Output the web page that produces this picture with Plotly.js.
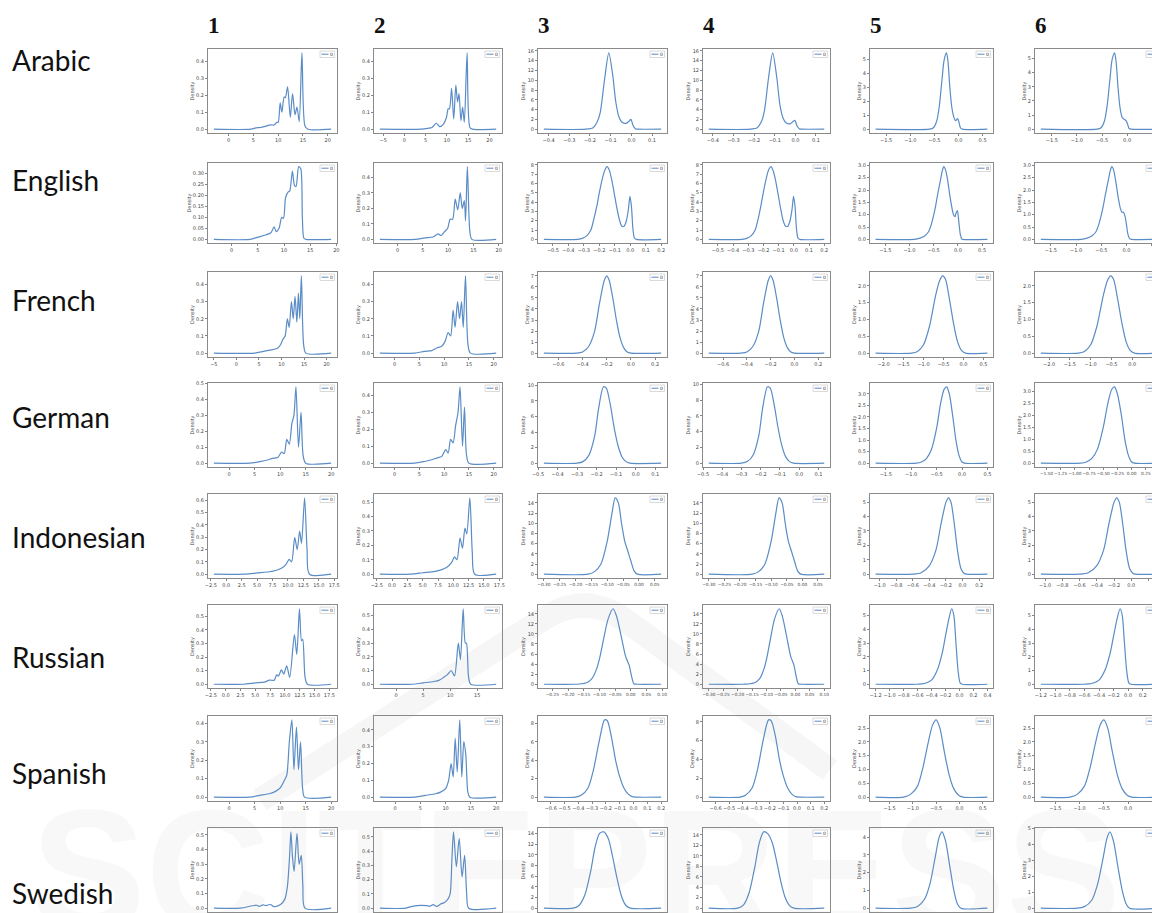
<!DOCTYPE html>
<html><head><meta charset="utf-8">
<script src="https://cdn.plot.ly/plotly-3.0.1.min.js"></script>
<style>html,body{margin:0;padding:0;background:#fff}#chart{width:1152px;height:913px}</style>
</head><body><div id="chart"></div>
<script>
// ---- labels ----
const rowNames = ['Arabic','English','French','German','Indonesian','Russian','Spanish','Swedish'];
const colNames = ['1','2','3','4','5','6'];

// ---- density curves: [value, density] ----
const arabic_1 = [[-3,0],[4.5,0],[5.5,0.008],[6.5,0.01],[7.5,0.018],[8.5,0.025],[9.2,0.025],[9.7,0.04],[10.0,0.04],[10.4,0.155],[10.75,0.1],[11.2,0.19],[11.45,0.185],[11.9,0.25],[12.45,0.07],[12.9,0.21],[13.4,0.085],[13.8,0.13],[14.25,0.045],[14.8,0.45],[15.4,0.02],[16,0],[20.7,0]];
const arabic_2 = [[-5.8,0],[4,0],[5.5,0.005],[6.5,0.01],[7.5,0.035],[8.3,0.015],[9.2,0.03],[9.9,0.07],[10.3,0.12],[10.6,0.12],[11.1,0.24],[11.6,0.06],[12.1,0.26],[12.5,0.16],[12.85,0.21],[13.3,0.05],[13.7,0.13],[14.1,0.04],[14.75,0.45],[15.4,0.01],[16,0],[21.6,0]];
const arabic_3 = [[-0.423,0],[-0.22,0],[-0.185,0.3],[-0.165,1.5],[-0.15,3.5],[-0.13,10],[-0.109,15.6],[-0.09,11],[-0.075,5.5],[-0.06,2.5],[-0.045,1.4],[-0.025,1.2],[-0.01,1.7],[-0.002,2.0],[0.008,0.8],[0.02,0.05],[0.03,0],[0.144,0]];
const arabic_4 = [[-0.42,0],[-0.22,0],[-0.185,0.3],[-0.165,1.5],[-0.15,3.8],[-0.13,10.5],[-0.11,15.6],[-0.09,10.5],[-0.075,5],[-0.06,2.3],[-0.045,1.3],[-0.025,1.1],[-0.01,1.6],[-0.002,1.8],[0.008,0.7],[0.02,0.05],[0.03,0],[0.14,0]];
const arabic_5 = [[-1.72,0],[-0.6,0],[-0.52,0.1],[-0.45,0.6],[-0.4,1.6],[-0.34,3.6],[-0.3,4.9],[-0.25,5.45],[-0.22,4.9],[-0.18,3.0],[-0.14,1.6],[-0.1,0.9],[-0.06,0.6],[-0.02,0.75],[0.01,0.5],[0.04,0.1],[0.08,0],[0.6,0]];
const arabic_6 = [[-1.72,0],[-0.6,0],[-0.52,0.1],[-0.45,0.6],[-0.4,1.6],[-0.34,3.6],[-0.3,4.9],[-0.25,5.4],[-0.22,4.8],[-0.18,2.9],[-0.14,1.5],[-0.1,0.85],[-0.06,0.7],[-0.02,0.6],[0.01,0.35],[0.04,0.05],[0.08,0],[0.6,0]];

const english_1 = [[-3.4,0],[3.5,0],[5,0.01],[6.5,0.02],[7.5,0.03],[8.1,0.057],[8.5,0.035],[9.05,0.05],[9.55,0.1],[9.9,0.095],[10.3,0.19],[10.8,0.215],[11.1,0.22],[11.6,0.31],[12.0,0.245],[12.3,0.24],[12.8,0.33],[13.2,0.32],[13.5,0.1],[13.8,0.005],[14.2,0],[19.0,0]];
const english_2 = [[-3.5,0],[3.5,0],[5.5,0.01],[7,0.015],[8,0.035],[8.6,0.025],[9.3,0.05],[9.9,0.07],[10.4,0.13],[10.9,0.13],[11.4,0.26],[11.9,0.19],[12.4,0.3],[12.8,0.2],[13.2,0.25],[13.45,0.12],[13.8,0.47],[14.3,0.05],[14.7,0],[19.5,0]];
const english_3 = [[-0.559,0],[-0.34,0],[-0.31,0.1],[-0.28,0.4],[-0.255,1],[-0.235,2.2],[-0.217,3.5],[-0.2,5],[-0.185,6.2],[-0.165,7.4],[-0.15,7.8],[-0.135,7.4],[-0.12,6.4],[-0.1,4.6],[-0.087,3.4],[-0.07,2.1],[-0.054,1.4],[-0.04,1.4],[-0.025,2.0],[-0.012,3.2],[-0.002,4.6],[0.008,3.5],[0.017,1.2],[0.027,0.15],[0.04,0],[0.2,0]];
const english_4 = [[-0.56,0],[-0.34,0],[-0.31,0.1],[-0.28,0.4],[-0.255,1],[-0.235,2.2],[-0.217,3.6],[-0.2,5.1],[-0.185,6.3],[-0.165,7.5],[-0.15,7.8],[-0.135,7.3],[-0.12,6.3],[-0.1,4.5],[-0.087,3.3],[-0.07,2.0],[-0.054,1.4],[-0.04,1.4],[-0.025,2.0],[-0.012,3.2],[-0.002,4.6],[0.008,3.5],[0.017,1.2],[0.027,0.15],[0.04,0],[0.2,0]];
const english_5 = [[-1.7,0],[-0.9,0],[-0.78,0.05],[-0.68,0.15],[-0.61,0.3],[-0.55,0.6],[-0.51,0.9],[-0.46,1.35],[-0.42,1.8],[-0.36,2.4],[-0.32,2.8],[-0.29,2.95],[-0.26,2.85],[-0.22,2.5],[-0.16,1.7],[-0.12,1.25],[-0.09,1.0],[-0.06,0.92],[-0.04,1.05],[-0.01,1.17],[0.02,0.7],[0.05,0.2],[0.08,0.02],[0.1,0],[0.61,0]];
const english_6 = [[-1.7,0],[-0.9,0],[-0.78,0.05],[-0.68,0.15],[-0.61,0.3],[-0.55,0.6],[-0.51,0.9],[-0.46,1.35],[-0.42,1.8],[-0.36,2.4],[-0.32,2.8],[-0.29,2.95],[-0.26,2.85],[-0.22,2.45],[-0.16,1.65],[-0.12,1.25],[-0.09,1.1],[-0.06,1.1],[-0.03,0.95],[0.0,0.6],[0.03,0.2],[0.06,0.03],[0.1,0],[0.61,0]];

const french_1 = [[-5,0],[4,0],[6,0.01],[8,0.02],[9.2,0.03],[9.8,0.05],[10.3,0.08],[10.8,0.1],[11.3,0.2],[11.7,0.15],[12.2,0.3],[12.6,0.2],[13.0,0.33],[13.4,0.18],[13.75,0.35],[14.05,0.2],[14.4,0.45],[14.9,0.05],[15.4,0],[21,0]];
const french_2 = [[-3,0],[4,0],[6,0.01],[7.5,0.015],[8.5,0.03],[9.5,0.04],[10.2,0.07],[10.8,0.12],[11.3,0.1],[11.8,0.25],[12.2,0.15],[12.7,0.3],[13.1,0.2],[13.5,0.3],[13.85,0.15],[14.3,0.45],[14.8,0.05],[15.3,0],[20.5,0]];
const french_3 = [[-0.72,0],[-0.45,0],[-0.4,0.1],[-0.35,0.6],[-0.3,2.0],[-0.26,4.5],[-0.22,6.6],[-0.2,7.0],[-0.18,6.6],[-0.15,5.0],[-0.12,3.0],[-0.09,1.4],[-0.06,0.5],[-0.03,0.1],[0.0,0],[0.25,0]];
const french_4 = [[-0.72,0],[-0.45,0],[-0.4,0.1],[-0.35,0.6],[-0.3,2.0],[-0.26,4.5],[-0.22,6.6],[-0.2,7.0],[-0.18,6.6],[-0.15,5.0],[-0.12,3.0],[-0.09,1.4],[-0.06,0.5],[-0.03,0.1],[0.0,0],[0.25,0]];
const french_5 = [[-2.2,0],[-1.3,0],[-1.15,0.05],[-1.0,0.25],[-0.85,0.8],[-0.7,1.7],[-0.6,2.15],[-0.52,2.3],[-0.45,2.2],[-0.35,1.6],[-0.25,0.9],[-0.15,0.35],[-0.05,0.08],[0.05,0],[0.6,0]];
const french_6 = [[-2.2,0],[-1.3,0],[-1.15,0.05],[-1.0,0.25],[-0.85,0.8],[-0.7,1.7],[-0.6,2.15],[-0.52,2.3],[-0.45,2.2],[-0.35,1.6],[-0.25,0.9],[-0.15,0.35],[-0.05,0.08],[0.05,0],[0.6,0]];

const german_1 = [[-3,0],[4,0],[6,0.01],[7.5,0.02],[8.5,0.03],[9.5,0.035],[10.3,0.07],[10.8,0.06],[11.3,0.15],[11.8,0.12],[12.3,0.25],[12.7,0.3],[13.1,0.48],[13.6,0.1],[14.1,0.32],[14.5,0.05],[15,0],[20,0]];
const german_2 = [[-3,0],[4,0],[6,0.01],[7.5,0.02],[8.5,0.03],[9.5,0.04],[10.3,0.08],[10.8,0.06],[11.3,0.14],[11.8,0.12],[12.3,0.22],[12.8,0.3],[13.2,0.45],[13.7,0.1],[14.1,0.33],[14.5,0.05],[15,0],[20.5,0]];
const german_3 = [[-0.47,0],[-0.3,0],[-0.27,0.2],[-0.24,1],[-0.21,3.5],[-0.19,7],[-0.165,9.8],[-0.15,9.6],[-0.13,7.5],[-0.11,4.5],[-0.09,2.2],[-0.07,0.8],[-0.05,0.2],[-0.03,0],[0.13,0]];
const german_4 = [[-0.47,0],[-0.3,0],[-0.27,0.2],[-0.24,1],[-0.21,3.5],[-0.19,7],[-0.165,9.7],[-0.15,9.5],[-0.13,7.4],[-0.11,4.5],[-0.09,2.2],[-0.07,0.8],[-0.05,0.2],[-0.03,0],[0.13,0]];
const german_5 = [[-1.7,0],[-0.9,0],[-0.8,0.05],[-0.7,0.2],[-0.6,0.6],[-0.5,1.5],[-0.42,2.6],[-0.35,3.2],[-0.3,3.3],[-0.25,3.0],[-0.18,2.0],[-0.12,1.0],[-0.06,0.35],[0.0,0.05],[0.05,0],[0.5,0]];
const german_6 = [[-1.6,0],[-0.9,0],[-0.8,0.05],[-0.7,0.2],[-0.6,0.6],[-0.5,1.5],[-0.42,2.5],[-0.35,3.1],[-0.3,3.2],[-0.25,2.9],[-0.18,2.0],[-0.12,1.0],[-0.06,0.35],[0.0,0.05],[0.05,0],[0.45,0]];

const indonesian_1 = [[-2,0],[3,0],[5,0.01],[7,0.02],[8,0.03],[9,0.05],[9.7,0.08],[10.2,0.12],[10.6,0.1],[11.1,0.3],[11.5,0.2],[11.9,0.35],[12.2,0.25],[12.7,0.62],[13.1,0.2],[13.5,0],[17,0]];
const indonesian_2 = [[-2,0],[3,0],[5,0.01],[7,0.02],[8,0.03],[9,0.05],[9.7,0.08],[10.2,0.12],[10.6,0.1],[11.1,0.25],[11.5,0.18],[11.9,0.32],[12.2,0.28],[12.7,0.53],[13.1,0.15],[13.5,0],[17,0]];
const indonesian_3 = [[-0.3,0],[-0.16,0],[-0.14,0.5],[-0.12,2],[-0.1,6.5],[-0.085,12],[-0.075,15],[-0.065,14],[-0.055,10],[-0.045,6.5],[-0.035,4.5],[-0.025,2.5],[-0.015,0.6],[-0.005,0],[0.07,0]];
const indonesian_4 = [[-0.3,0],[-0.16,0],[-0.14,0.5],[-0.12,2],[-0.1,6.5],[-0.085,12],[-0.075,15],[-0.065,14],[-0.055,10],[-0.045,6.5],[-0.035,4.5],[-0.025,2.5],[-0.015,0.6],[-0.005,0],[0.07,0]];
const indonesian_5 = [[-1.05,0],[-0.6,0],[-0.5,0.1],[-0.4,0.6],[-0.32,1.7],[-0.26,3.5],[-0.2,5.0],[-0.17,5.3],[-0.14,5.0],[-0.1,3.5],[-0.06,1.6],[-0.02,0.4],[0.02,0.05],[0.05,0],[0.3,0]];
const indonesian_6 = [[-1.05,0],[-0.6,0],[-0.5,0.1],[-0.4,0.6],[-0.32,1.7],[-0.26,3.5],[-0.2,5.0],[-0.17,5.3],[-0.14,5.0],[-0.1,3.5],[-0.06,1.6],[-0.02,0.4],[0.02,0.05],[0.05,0],[0.3,0]];

const russian_1 = [[-2,0],[3,0],[5,0.01],[6.5,0.015],[7.4,0.03],[8.2,0.03],[8.6,0.07],[8.9,0.06],[9.4,0.105],[9.8,0.075],[10.3,0.135],[10.8,0.05],[11.6,0.365],[12.0,0.22],[12.45,0.555],[12.8,0.32],[13.0,0.33],[13.4,0.05],[13.8,0],[17.8,0]];
const russian_2 = [[-3,0],[3,0],[5,0.01],[7,0.02],[8,0.03],[8.8,0.05],[9.5,0.07],[10.2,0.1],[10.8,0.06],[11.5,0.3],[11.9,0.18],[12.4,0.55],[12.8,0.3],[13.0,0.3],[13.4,0.05],[13.8,0],[18.5,0]];
const russian_3 = [[-0.277,0],[-0.18,0],[-0.163,0.05],[-0.141,0.3],[-0.125,1],[-0.109,3],[-0.098,5.5],[-0.088,8.5],[-0.072,13],[-0.056,15],[-0.045,13.5],[-0.032,10],[-0.016,5.5],[-0.005,3.8],[0.003,1.5],[0.01,0.1],[0.02,0],[0.097,0]];
const russian_4 = [[-0.3,0],[-0.18,0],[-0.163,0.05],[-0.141,0.3],[-0.125,1],[-0.109,3],[-0.098,5.5],[-0.088,8.5],[-0.072,13],[-0.056,15],[-0.045,13.5],[-0.032,10],[-0.016,5.5],[-0.005,3.8],[0.003,1.5],[0.01,0.1],[0.02,0],[0.1,0]];
const russian_5 = [[-1.2,0],[-0.6,0],[-0.5,0.05],[-0.4,0.3],[-0.32,1.0],[-0.25,2.2],[-0.2,3.5],[-0.15,4.8],[-0.11,5.5],[-0.08,5.0],[-0.05,3.0],[-0.02,1.0],[0.01,0.1],[0.04,0],[0.4,0]];
const russian_6 = [[-1.2,0],[-0.6,0],[-0.5,0.05],[-0.4,0.3],[-0.32,1.0],[-0.25,2.2],[-0.2,3.5],[-0.15,4.8],[-0.11,5.5],[-0.08,5.0],[-0.05,3.0],[-0.02,1.0],[0.01,0.1],[0.04,0],[0.4,0]];

const spanish_1 = [[-3,0],[4,0],[6,0.01],[8,0.02],[9,0.03],[10,0.05],[10.8,0.09],[11.3,0.12],[11.8,0.3],[12.3,0.42],[12.7,0.15],[13.2,0.38],[13.6,0.15],[14.0,0.3],[14.4,0.05],[14.8,0],[20,0]];
const spanish_2 = [[-3,0],[4,0],[6,0.01],[8,0.02],[9,0.03],[10,0.05],[10.6,0.1],[11.1,0.2],[11.5,0.12],[11.9,0.35],[12.3,0.15],[12.8,0.46],[13.2,0.12],[13.6,0.33],[14.0,0.25],[14.4,0.03],[14.8,0],[20,0]];
const spanish_3 = [[-0.65,0],[-0.42,0],[-0.38,0.2],[-0.33,1],[-0.29,3],[-0.25,6],[-0.21,8.4],[-0.19,8.3],[-0.16,6.5],[-0.13,4],[-0.1,2.2],[-0.07,1],[-0.04,0.35],[-0.01,0.05],[0.02,0],[0.2,0]];
const spanish_4 = [[-0.65,0],[-0.42,0],[-0.38,0.2],[-0.33,1],[-0.29,3],[-0.25,6],[-0.21,8.2],[-0.19,8.1],[-0.16,6.5],[-0.13,4],[-0.1,2.2],[-0.07,1],[-0.04,0.35],[-0.01,0.05],[0.02,0],[0.2,0]];
const spanish_5 = [[-1.8,0],[-1.2,0],[-1.05,0.1],[-0.9,0.4],[-0.78,1.1],[-0.68,1.9],[-0.58,2.6],[-0.5,2.8],[-0.42,2.5],[-0.32,1.6],[-0.22,0.8],[-0.12,0.3],[-0.02,0.07],[0.08,0],[0.6,0]];
const spanish_6 = [[-1.8,0],[-1.2,0],[-1.05,0.1],[-0.9,0.4],[-0.78,1.1],[-0.68,1.9],[-0.58,2.6],[-0.5,2.8],[-0.42,2.5],[-0.32,1.6],[-0.22,0.8],[-0.12,0.3],[-0.02,0.07],[0.08,0],[0.6,0]];

const swedish_1 = [[-3,0],[2,0],[4,0.015],[5,0.02],[5.5,0.012],[6.2,0.022],[6.8,0.018],[7.6,0.025],[8.3,0.01],[9.5,0.025],[10.3,0.06],[10.8,0.15],[11.2,0.35],[11.45,0.52],[11.75,0.35],[12.05,0.25],[12.6,0.51],[13.0,0.3],[13.4,0.36],[13.7,0.15],[14.1,0],[19,0]];
const swedish_2 = [[-3,0],[2,0],[3.5,0.015],[5,0.02],[6,0.018],[6.8,0.015],[7.3,0.025],[8,0.012],[8.8,0.03],[9.5,0.04],[10.2,0.065],[10.6,0.1],[10.95,0.35],[11.25,0.535],[11.8,0.29],[12.35,0.49],[12.9,0.22],[13.4,0.37],[13.8,0.1],[14.2,0],[19.5,0]];
const swedish_3 = [[-0.3,0],[-0.2,0],[-0.18,0.5],[-0.16,2.5],[-0.14,7],[-0.125,11.5],[-0.11,14],[-0.095,14.3],[-0.08,13],[-0.065,9.5],[-0.05,5.5],[-0.035,2.2],[-0.02,0.5],[-0.005,0],[0.1,0]];
const swedish_4 = [[-0.3,0],[-0.2,0],[-0.18,0.6],[-0.16,3],[-0.14,8],[-0.125,12.5],[-0.11,14.6],[-0.095,14.2],[-0.08,12.5],[-0.065,9],[-0.05,5],[-0.035,2],[-0.02,0.5],[-0.005,0],[0.1,0]];
const swedish_5 = [[-1.2,0],[-0.7,0],[-0.6,0.1],[-0.5,0.5],[-0.42,1.4],[-0.35,2.8],[-0.29,4.0],[-0.25,4.3],[-0.2,3.8],[-0.14,2.4],[-0.08,1.0],[-0.03,0.25],[0.02,0],[0.4,0]];
const swedish_6 = [[-1.2,0],[-0.7,0],[-0.6,0.1],[-0.5,0.5],[-0.42,1.5],[-0.35,3.0],[-0.29,4.4],[-0.25,4.8],[-0.2,4.2],[-0.14,2.6],[-0.08,1.1],[-0.03,0.3],[0.02,0],[0.4,0]];

const curves = [
  [arabic_1,arabic_2,arabic_3,arabic_4,arabic_5,arabic_6],
  [english_1,english_2,english_3,english_4,english_5,english_6],
  [french_1,french_2,french_3,french_4,french_5,french_6],
  [german_1,german_2,german_3,german_4,german_5,german_6],
  [indonesian_1,indonesian_2,indonesian_3,indonesian_4,indonesian_5,indonesian_6],
  [russian_1,russian_2,russian_3,russian_4,russian_5,russian_6],
  [spanish_1,spanish_2,spanish_3,spanish_4,spanish_5,spanish_6],
  [swedish_1,swedish_2,swedish_3,swedish_4,swedish_5,swedish_6]
];

// ---- tick spacings (x and y) ----
const xTickStep = [
  [5,5,0.1,0.1,0.5,0.5],
  [5,5,0.1,0.1,0.5,0.5],
  [5,5,0.2,0.2,0.5,0.5],
  [5,5,0.1,0.1,0.5,0.25],
  [2.5,2.5,0.05,0.05,0.2,0.2],
  [2.5,5,0.05,0.05,0.2,0.2],
  [5,5,0.1,0.1,0.5,0.5],
  [5,5,0.05,0.05,0.2,0.2]
];
const yTickStep = [
  [0.1,0.1,2,2,1,1],
  [0.05,0.1,1,1,0.5,0.5],
  [0.1,0.1,1,1,0.5,0.5],
  [0.1,0.1,2,2,0.5,0.5],
  [0.1,0.1,2,2,1,1],
  [0.1,0.1,2,2,1,1],
  [0.1,0.1,2,2,0.5,0.5],
  [0.1,0.1,2,2,1,1]
];

// ---- layout geometry (pixels) ----
const W = 1152, H = 913;
const colLeft = [208, 374, 538, 703, 870, 1035];
const colWidth = [129, 128, 129, 127, 123, 128];
const rowTop = [49, 163, 272, 383, 494, 605, 716, 828];
const rowHeight = [84, 80, 85, 84, 84, 83, 85, 84];
const rowLabelY = [60, 180, 300, 417, 537, 657, 773, 893];
const lineColor = '#5a8cc6';

const px = v => v / W;
const py = v => 1 - v / H;
function decimals(s) { const t = String(s); return t.includes('.') ? t.split('.')[1].length : 0; }

const traces = [];
const layout = {
  width: W, height: H,
  margin: {l: 0, r: 0, t: 0, b: 0},
  showlegend: false,
  paper_bgcolor: '#ffffff',
  plot_bgcolor: 'rgba(0,0,0,0)',
  annotations: [], shapes: []
};

// faint publisher watermark (drawn first, beneath the plots)
layout.shapes.push({type: 'path', xref: 'paper', yref: 'paper', layer: 'below',
  path: 'M ' + px(260) + ' ' + py(800) + ' L ' + px(545) + ' ' + py(618) +
        ' Q ' + px(585) + ' ' + py(592) + ' ' + px(625) + ' ' + py(620) +
        ' L ' + px(830) + ' ' + py(770),
  line: {color: 'rgba(180,180,180,0.12)', width: 24}});
layout.annotations.push({xref: 'paper', yref: 'paper', x: 0.5, y: py(772),
  text: '<b>SCITEPRESS</b>', showarrow: false, xanchor: 'center', yanchor: 'top',
  font: {family: '"Liberation Sans", sans-serif', size: 172, color: 'rgba(150,150,150,0.07)'}});

let k = 0;
rowNames.forEach((name, r) => {
  curves[r].forEach((pts, c) => {
    k++;
    const sfx = k === 1 ? '' : String(k);
    const xs = pts.map(p => p[0]), ys = pts.map(p => p[1]);
    const xmin = Math.min(...xs), xmax = Math.max(...xs), ymax = Math.max(...ys);
    let x0 = xmin - 0.05 * (xmax - xmin), x1 = xmax + 0.05 * (xmax - xmin);
    const left = colLeft[c], fullRight = left + colWidth[c];
    let right = fullRight;
    if (right > W) { x1 = x0 + (x1 - x0) * (W - left) / colWidth[c]; right = W; }
    const top = rowTop[r], bot = Math.min(H - 1, top + rowHeight[r]);
    traces.push({
      x: xs, y: ys, xaxis: 'x' + sfx, yaxis: 'y' + sfx,
      type: 'scatter', mode: 'lines', hoverinfo: 'skip',
      line: {color: lineColor, width: 1.2, shape: 'spline', smoothing: 0.75}
    });
    const xs_ = xTickStep[r][c], ys_ = yTickStep[r][c];
    const dense = decimals(xs_) >= 2;
    layout['xaxis' + sfx] = {
      domain: [px(left), px(right)], range: [x0, x1], anchor: 'y' + sfx,
      showgrid: false, zeroline: false, showline: true, mirror: true,
      linecolor: '#8a8a8a', linewidth: 1,
      ticks: 'outside', ticklen: 2, tickwidth: 0.8, tickcolor: '#666',
      tick0: 0, dtick: xs_, tickformat: '.' + decimals(xs_) + 'f', tickangle: 0,
      showticklabels: r < 7,
      tickfont: {family: 'DejaVu Sans, sans-serif', size: dense ? 4.3 : 5, color: '#444'},
      fixedrange: true
    };
    layout['yaxis' + sfx] = {
      domain: [py(bot), py(top)], range: [-0.05 * ymax, 1.05 * ymax], anchor: 'x' + sfx,
      showgrid: false, zeroline: false, showline: true, mirror: c < 5,
      linecolor: '#8a8a8a', linewidth: 1,
      ticks: 'outside', ticklen: 2, tickwidth: 0.8, tickcolor: '#666',
      tick0: 0, dtick: ys_, tickformat: '.' + decimals(ys_) + 'f', tickangle: 0,
      tickfont: {family: 'DejaVu Sans, sans-serif', size: 5, color: '#444'}, fixedrange: true,
      title: {text: 'Density', font: {family: 'DejaVu Sans, sans-serif', size: 5, color: '#444'}, standoff: 1}
    };
    // legend box (matplotlib style) in top-right corner
    layout.shapes.push({type: 'rect', xref: 'paper', yref: 'paper',
      x0: px(fullRight - 17), x1: px(fullRight - 2.5), y0: py(top + 8.5), y1: py(top + 2),
      line: {color: '#d0d0d0', width: 0.8}, fillcolor: 'rgba(255,255,255,0.85)'});
    layout.shapes.push({type: 'line', xref: 'paper', yref: 'paper',
      x0: px(fullRight - 15.5), x1: px(fullRight - 8.5), y0: py(top + 5.2), y1: py(top + 5.2),
      line: {color: lineColor, width: 1}});
    layout.annotations.push({xref: 'paper', yref: 'paper', x: px(fullRight - 5.2), y: py(top + 5.2),
      text: '0', showarrow: false, xanchor: 'center', yanchor: 'middle',
      font: {family: 'DejaVu Sans, sans-serif', size: 4.5, color: '#333'}});
  });
  // row label
  layout.annotations.push({xref: 'paper', yref: 'paper', x: px(10), y: py(rowLabelY[r]),
    text: name, showarrow: false, xanchor: 'left', yanchor: 'middle',
    font: {family: 'Lato, "Open Sans", sans-serif', size: 28, color: '#111'}});
});

// column headers
colNames.forEach((t, c) => {
  layout.annotations.push({xref: 'paper', yref: 'paper', x: px(colLeft[c] - 2), y: py(26),
    text: '<b>' + t + '</b>', showarrow: false, xanchor: 'left', yanchor: 'middle',
    font: {family: '"Liberation Serif", serif', size: 23, color: '#111'}});
});

Plotly.newPlot('chart', traces, layout, {displayModeBar: false, staticPlot: true});
</script>
</body></html>
